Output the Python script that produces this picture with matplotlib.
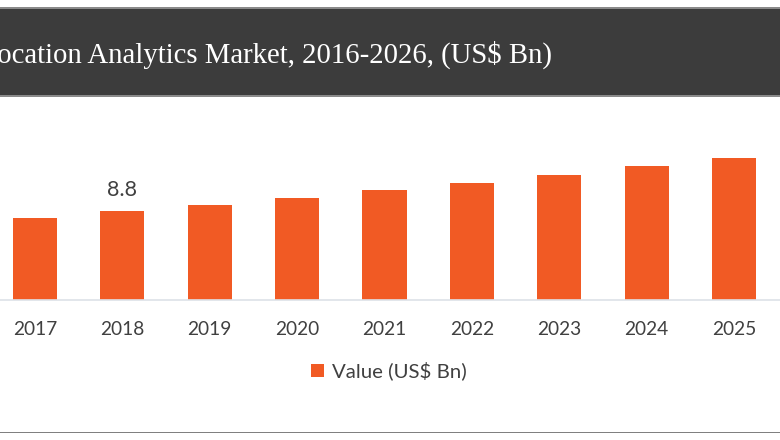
import matplotlib
matplotlib.use('Agg')
import matplotlib.pyplot as plt
from matplotlib.patches import Rectangle

W, H = 780, 440

# values
years = [2017, 2018, 2019, 2020, 2021, 2022, 2023, 2024, 2025]
values = [8.2, 8.8, 9.5, 10.2, 10.9, 11.7, 12.4, 13.3, 14.1]
labelled = {2018: '8.8'}

bar_color = '#f15a24'
text_color = '#404040'

plt.rcParams['font.family'] = ['Lato', 'DejaVu Sans']

fig = plt.figure(figsize=(W / 100, H / 100), dpi=100)

# dark title band, thin rules above and below it
fig.patches.append(Rectangle((0, 1 - 96.5 / H), 1, 88.5 / H, transform=fig.transFigure,
                             facecolor='#3c3c3c', edgecolor='none'))
fig.patches.append(Rectangle((0, 1 - 9 / H), 1, 1.5 / H, transform=fig.transFigure,
                             facecolor='#8a8a8a', edgecolor='none'))
fig.patches.append(Rectangle((0, 1 - 97 / H), 1, 1.5 / H, transform=fig.transFigure,
                             facecolor='#8a8a8a', edgecolor='none'))
# the reference cuts this title off at the left edge
fig.text(552 / W, 1 - 62.5 / H, 'Global Location Analytics Market, 2016-2026, (US$ Bn)',
         family='Liberation Serif', fontsize=20.7, color='#ffffff', ha='right', va='baseline')

# bottom rule
fig.patches.append(Rectangle((0, 1 - 433 / H), 1, 1.5 / H, transform=fig.transFigure,
                             facecolor='#808080', edgecolor='none'))

# axes span the whole width, so the first and last years sit near the edges
ax = fig.add_axes([0, 1 - 299.5 / H, 1, 199.5 / H])
ax.patch.set_alpha(0)
bars = ax.bar(years, values, width=0.505, color=bar_color, label='Value (US$ Bn)')
ax.set_xlim(2016.6, 2025.525)
ax.set_ylim(0, 19.95)

for bar, year in zip(bars, years):
    if year in labelled:
        ax.annotate(labelled[year], (bar.get_x() + bar.get_width() / 2, bar.get_height()),
                    xytext=(0, 8.5), textcoords='offset points', ha='center', va='bottom',
                    fontsize=15.5, color=text_color)

ax.set_xticks(years)
ax.set_xticklabels([str(y) for y in years], fontsize=13.8, color=text_color)
ax.tick_params(axis='x', length=0, pad=15.5)
ax.set_yticks([])
for side in ['top', 'left', 'right']:
    ax.spines[side].set_visible(False)
ax.spines['bottom'].set_color('#dde1e8')
ax.spines['bottom'].set_linewidth(1.2)

fig.legend(loc='center', bbox_to_anchor=(389 / W, 1 - 371 / H), frameon=False, fontsize=14.7,
           labelcolor=text_color, handlelength=0.62, handleheight=0.62, handletextpad=0.4)

fig.savefig('out.png', dpi=100)
